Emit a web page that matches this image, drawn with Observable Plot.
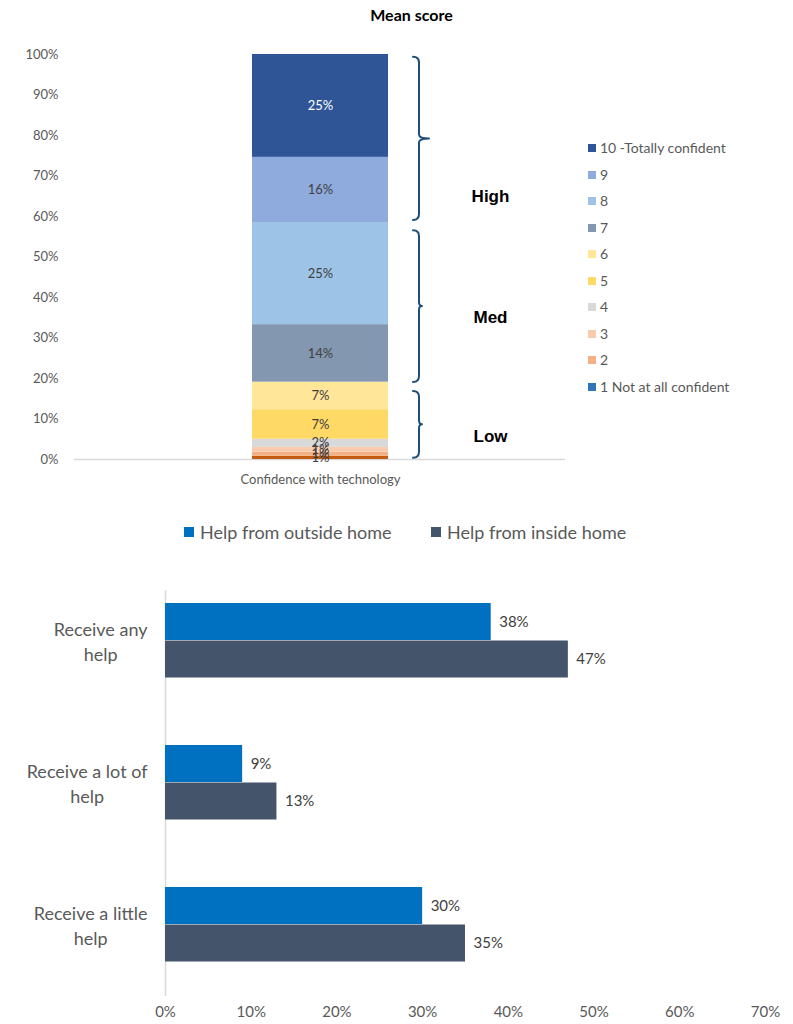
<!DOCTYPE html>
<html><head><meta charset="utf-8">
<script src="https://cdn.jsdelivr.net/npm/d3@7"></script>
<script src="https://cdn.jsdelivr.net/npm/@observablehq/plot@0.6"></script>
<style>
body{margin:0;background:#fff;font-family:Lato,"Open Sans",sans-serif;}
#root{position:relative;width:793px;height:1024px;overflow:hidden;background:#fff;}
.abs{position:absolute;}
.sw{position:absolute;}
.lg{position:absolute;white-space:nowrap;color:#595959;}
</style></head><body><div id="root"></div>
<script>
// ---------- data: top chart ----------
const category = "Confidence with technology";
const scoreLevels = ["1","2","3","4","5","6","7","8","9","10"];
const legendNames = ["1 Not at all confident","2","3","4","5","6","7","8","9","10 -Totally confident"];
const scoreShares = [0.8, 1.0, 1.2, 2.0, 7.3, 6.8, 14.2, 25.2, 16.1, 25.4];
const scoreLabels = ["1%","1%","1%","2%","7%","7%","14%","25%","16%","25%"];
const barColors = ["#c55a11","#f4b183","#f8cbad","#d9d9d9","#ffd966","#ffe699","#8497b0","#9dc3e6","#8faadc","#2f5597"];
const legendColors = ["#2e75b6","#f4b183","#f8cbad","#d9d9d9","#ffd966","#ffe699","#8497b0","#9dc3e6","#8faadc","#2f5597"];
const labelColors = ["#404040","#404040","#404040","#404040","#404040","#404040","#404040","#404040","#404040","#ffffff"];
const yTicks = [0,10,20,30,40,50,60,70,80,90,100];

const bandNames = ["High","Med","Low"];
const bandFrom = [59, 19, 0.3];
const bandTo = [99.3, 56.5, 16.8];
const bandLabelAt = [65, 35, 5.7];
const bandTip = [10, 3, 3];

// ---------- data: bottom chart ----------
const helpGroups = ["Receive any help","Receive a lot of help","Receive a little help"];
const helpGroupLines = ["Receive any\nhelp","Receive a lot of\nhelp","Receive a little\nhelp"];
const helpSeries = ["Help from outside home","Help from inside home"];
const outsideValues = [38, 9, 30];
const insideValues = [47, 13, 35];
const helpColors = ["#0070c0","#44546a"];
const xTicks = [0,10,20,30,40,50,60,70];

const root = document.getElementById("root");
const FONT = "Lato, 'Open Sans', sans-serif";

// ---------- title ----------
const title = document.createElement("div");
title.className = "abs";
title.style.cssText = "top:5px;left:30px;width:763px;text-align:center;font-weight:bold;font-size:16px;color:#000;";
title.textContent = "Mean score";
root.appendChild(title);

// ---------- top chart ----------
const cum = d3.cumsum(scoreShares);
const rows = scoreLevels.map((k, i) => ({
  cat: category, level: k,
  lo: i ? cum[i - 1] : 0, hi: cum[i],
  mid: (i ? cum[i - 1] : 0) + scoreShares[i] / 2,
  label: scoreLabels[i], color: barColors[i], labelColor: labelColors[i]
}));
const bandRows = bandNames.map((n, i) => ({cat: category, name: n, from: bandFrom[i], to: bandTo[i], at: bandLabelAt[i], tip: bandTip[i]}));

function braces(index, scales) {
  const sx = scales.x, sy = scales.y;
  const bw = typeof sx.bandwidth === "function" ? sx.bandwidth() : 0;
  const x0 = sx(category) + bw + 31;
  const g = d3.create("svg:g").attr("fill", "none").attr("stroke", "#1f4e79").attr("stroke-width", 2).attr("stroke-linecap", "round");
  bandRows.forEach(b => {
    const y1 = sy(b.to), y2 = sy(b.from), ym = sy((b.to + b.from) / 2);
    const c = 6, t = b.tip;
    g.append("path").attr("d",
      `M${x0 - c},${y1}Q${x0},${y1} ${x0},${y1 + c}L${x0},${ym - 4}Q${x0},${ym} ${x0 + t},${ym}` +
      `M${x0 + t},${ym}Q${x0},${ym} ${x0},${ym + 4}L${x0},${y2 - c}Q${x0},${y2} ${x0 - c},${y2}`);
  });
  return g.node();
}

const topPlot = Plot.plot({
  width: 793, height: 500,
  marginTop: 54, marginBottom: 41, marginLeft: 74, marginRight: 228,
  style: {fontFamily: FONT, fontSize: "13px", color: "#595959", background: "transparent", overflow: "visible"},
  x: {domain: [category], padding: 0.566, tickSize: 0, tickPadding: 15, label: null},
  y: {domain: [0, 100], ticks: yTicks, tickFormat: d => d + "%", tickSize: 0, tickPadding: 16, label: null},
  color: {type: "identity"},
  marks: [
    Plot.ruleY([0], {stroke: "#d9d9d9", strokeWidth: 1.5}),
    Plot.barY(rows, {x: "cat", y1: "lo", y2: "hi", fill: "color"}),
    Plot.text(rows, {x: "cat", y: "mid", text: "label", fill: "labelColor", fontSize: 13}),
    braces,
    Plot.text(bandRows, {x: "cat", y: "at", text: "name", dx: 170, fill: "#000", fontSize: 17, fontWeight: "bold", fontFamily: "'Liberation Sans', Arial, sans-serif"})
  ]
});
topPlot.style.position = "absolute";
topPlot.style.left = "0px";
topPlot.style.top = "0px";
root.appendChild(topPlot);

// top legend (vertical list, top item = 10)
for (let j = 0; j < scoreLevels.length; j++) {
  const i = scoreLevels.length - 1 - j;
  const cy = 148 + j * 26.5;
  const sw = document.createElement("div");
  sw.className = "sw";
  sw.style.cssText = `left:588px;top:${cy - 4}px;width:8px;height:8px;background:${legendColors[i]};`;
  root.appendChild(sw);
  const t = document.createElement("div");
  t.className = "lg";
  t.style.cssText = `left:600px;top:${cy - 9}px;font-size:14px;line-height:18px;`;
  t.textContent = legendNames[i];
  root.appendChild(t);
}

// ---------- bottom legend ----------
const legX = [184, 431];
helpSeries.forEach((s, i) => {
  const sw = document.createElement("div");
  sw.className = "sw";
  sw.style.cssText = `left:${legX[i]}px;top:527px;width:10px;height:10px;background:${helpColors[i]};`;
  root.appendChild(sw);
  const t = document.createElement("div");
  t.className = "lg";
  t.style.cssText = `left:${legX[i] + 16}px;top:520px;font-size:18px;line-height:24px;`;
  t.textContent = s;
  root.appendChild(t);
});

// ---------- bottom chart ----------
const outsideRows = helpGroups.map((g, i) => ({group: g, value: outsideValues[i]}));
const insideRows = helpGroups.map((g, i) => ({group: g, value: insideValues[i]}));

const ctx = document.createElement("canvas").getContext("2d");
ctx.font = "18px Lato";
const groupLabelMarks = helpGroups.map((g, i) => {
  const w = d3.max(helpGroupLines[i].split("\n"), l => ctx.measureText(l).width);
  return Plot.text([{group: g, x: 0, text: helpGroupLines[i]}], {
    x: "x", y: "group", text: "text", textAnchor: "middle", dx: -18 - w / 2,
    fontSize: 18, lineHeight: 1.4, fill: "#595959"
  });
});

const botPlot = Plot.plot({
  width: 793, height: 464,
  marginTop: 8, marginBottom: 28, marginLeft: 165, marginRight: 28,
  style: {fontFamily: FONT, fontSize: "15px", color: "#595959", background: "transparent", overflow: "visible"},
  x: {domain: [0, 70], ticks: xTicks, tickFormat: d => d + "%", tickSize: 0, tickPadding: 10, label: null},
  y: {domain: helpGroups, padding: 0, axis: null},
  marks: [
    Plot.ruleX([0], {stroke: "#d9d9d9", strokeWidth: 1.5, insetTop: 22}),
    Plot.barX(outsideRows, {x: "value", y: "group", fill: helpColors[0], insetTop: 34, insetBottom: 71}),
    Plot.barX(insideRows, {x: "value", y: "group", fill: helpColors[1], insetTop: 71.5, insetBottom: 33.5}),
    Plot.text(outsideRows, {x: "value", y: "group", text: d => d.value + "%", dy: -18.75, dx: 8, textAnchor: "start", fill: "#404040", fontSize: 15}),
    Plot.text(insideRows, {x: "value", y: "group", text: d => d.value + "%", dy: 18.75, dx: 8, textAnchor: "start", fill: "#404040", fontSize: 15}),
    ...groupLabelMarks
  ]
});
botPlot.style.position = "absolute";
botPlot.style.left = "0px";
botPlot.style.top = "560px";
root.appendChild(botPlot);
</script></body></html>
